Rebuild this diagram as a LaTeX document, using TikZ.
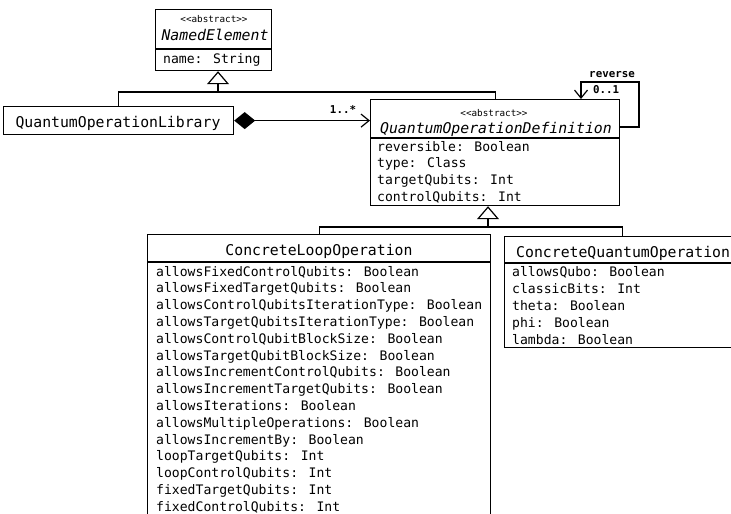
\documentclass[tikz,border=0pt]{standalone}
\usepackage{fontspec}
\newfontfamily\umono{DejaVu Sans Mono}
\usetikzlibrary{arrows.meta,calc}
\newcommand\fattr{\umono\fontsize{13.1}{15}\selectfont}
\newcommand\fhead{\umono\fontsize{14.8}{17}\selectfont}
\newcommand\fsmall{\umono\fontsize{9.3}{11}\selectfont}
\newcommand\flab{\umono\bfseries\fontsize{10.8}{13}\selectfont}
\begin{document}
\begin{tikzpicture}[x=1pt,y=-1pt,
  box/.style={draw, line width=1.2pt, rectangle, inner sep=0pt, anchor=north west},
  div/.style={line width=1.8pt},
  conn/.style={line width=1.2pt},
  attr/.style={font=\fattr, inner sep=0pt, anchor=base west},
  head/.style={font=\fhead, inner sep=0pt, anchor=base},
  stereo/.style={font=\fsmall, inner sep=0pt, anchor=base},
  lab/.style={font=\flab, inner sep=0pt, anchor=base},
  gen/.style={conn, -{Triangle[open, length=13pt, width=22pt, line width=1.2pt]}},
  barb/.style={-{Straight Barb[length=8pt, width=13pt, line width=1.2pt]}}
]
\useasboundingbox (0,0) rectangle (731,514);
\clip (0,0) rectangle (731,514);

% NamedElement
\node[box, minimum width=116pt, minimum height=61pt] (ne) at (155,9) {};
\draw[div] (155,49) -- (271,49);
\node[stereo] (ne-s) at (214,22) {<{}<abstract>{}>};
\node[head] (ne-t) at (215,40) {\itshape NamedElement};
\node[attr] (ne-a0) at (163,63) {name: String};

% QuantumOperationLibrary
\node[box, minimum width=230pt, minimum height=28pt] (ql) at (3,106) {};
\node[head] (ql-t) at (118,127) {QuantumOperationLibrary};

% QuantumOperationDefinition
\node[box, minimum width=249pt, minimum height=106pt] (qod) at (370,99) {};
\draw[div] (370,138) -- (619,138);
\node[stereo] (qod-s) at (494,116) {<{}<abstract>{}>};
\node[head] (qod-t) at (496,133) {\itshape QuantumOperationDefinition};
\foreach \t [count=\i from 0] in {reversible: Boolean, type: Class, targetQubits: Int, controlQubits: Int}
  \node[attr] (qod-a\i) at (377,151+16.7*\i) {\t};

% ConcreteLoopOperation
\node[box, minimum width=343pt, minimum height=306pt] (clo) at (147,234) {};
\draw[div] (147,262) -- (490,262);
\node[head] (clo-t) at (319,255) {ConcreteLoopOperation};
\foreach \t [count=\i from 0] in {allowsFixedControlQubits: Boolean, allowsFixedTargetQubits: Boolean,
  allowsControlQubitsIterationType: Boolean, allowsTargetQubitsIterationType: Boolean,
  allowsControlQubitBlockSize: Boolean, allowsTargetQubitBlockSize: Boolean,
  allowsIncrementControlQubits: Boolean, allowsIncrementTargetQubits: Boolean,
  allowsIterations: Boolean, allowsMultipleOperations: Boolean, allowsIncrementBy: Boolean,
  loopTargetQubits: Int, loopControlQubits: Int, fixedTargetQubits: Int, fixedControlQubits: Int}
  \node[attr] (clo-a\i) at (156,276+16.8*\i) {\t};

% ConcreteQuantumOperation
\node[box, minimum width=236pt, minimum height=111pt] (cqo) at (504,236) {};
\draw[div] (504,263) -- (740,263);
\node[head, anchor=base west] (cqo-t) at (516,257) {ConcreteQuantumOperation};
\foreach \t [count=\i from 0] in {allowsQubo: Boolean, classicBits: Int, theta: Boolean, phi: Boolean, lambda: Boolean}
  \node[attr] (cqo-a\i) at (512,276+17*\i) {\t};

% generalization to NamedElement
\coordinate (j1) at (218,92);
\draw[conn] (ql.north) |- (j1) -| (qod.north);
\draw[gen] (j1) -- (j1 |- ne.south);

% generalization to QuantumOperationDefinition
\coordinate (j2) at (488,227);
\draw[conn] (clo.north) |- (j2) -| (cqo.north);
\draw[gen] (j2) -- (j2 |- qod.south);

% composition
\draw[conn, {Diamond[length=21pt, width=17pt]}-{Straight Barb[length=8pt, width=13pt, line width=1.2pt]}]
  (ql.east) -- (ql.east -| qod.west);
\node[lab] (m1) at (343,113) {1..*};

% self association
\coordinate (r1) at (639,82);
\draw[conn, barb] ($(qod.north east)+(0,28)$) -| (r1) -| ($(qod.north west)+(211,0)$);
\node[lab] (rev) at (612,77) {reverse};
\node[lab] (m2) at (606,93) {0..1};
\end{tikzpicture}
\end{document}
